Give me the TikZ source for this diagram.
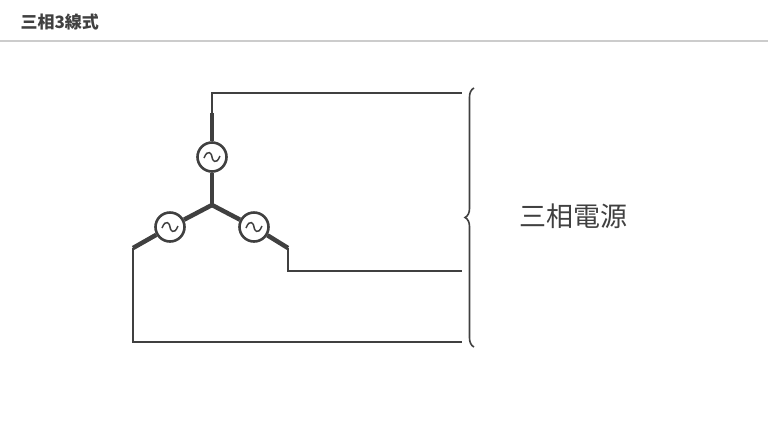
\documentclass[tikz,border=0pt]{standalone}
\usepackage{fontspec}
\newfontfamily\cjk{Noto Sans CJK JP}
\usetikzlibrary{decorations.pathreplacing}
\definecolor{ink}{HTML}{404040}
\begin{document}
\begin{tikzpicture}[
        x=1pt, y=-1pt,
        src/.style={circle, draw=ink, line width=2.6pt, fill=white, minimum size=29pt, inner sep=0pt},
        leg/.style={draw=ink, line width=4.5pt},
        wire/.style={draw=ink, line width=1.4pt},
        wave/.pic={\draw[ink, line width=1.5pt] (-8,1) .. controls (-4,-9) and (0,-3) .. (0,0) .. controls (0,3) and (4,9) .. (8,-1);}
    ]
    \useasboundingbox (0,0) rectangle (768,432);
    % Title bar
    \node[anchor=west, font=\cjk\bfseries\fontsize{17}{20}\selectfont, text=ink] (title) at (17,22) {三相3線式};
    \draw[gray!40, line width=1.5pt] (0,41) -- (768,41);

    % Star point and sources
    \coordinate (star) at (212,205);
    \node[src] (ua) at (212,157) {};
    \node[src] (ub) at (170,227) {};
    \node[src] (uc) at (254,227) {};
    \pic at (ua) {wave};
    \pic at (ub) {wave};
    \pic at (uc) {wave};

    % Corners of the wires
    \coordinate (ta) at (212,113);
    \coordinate (tb) at (133,248);
    \coordinate (tc) at (288,248);
    \coordinate (ka) at (212,93);
    \coordinate (kb) at (133,342);
    \coordinate (kc) at (288,271);
    \coordinate (ea) at (462,93);
    \coordinate (eb) at (462,342);
    \coordinate (ec) at (462,271);

    % Thick legs
    \draw[leg] (star) -- (ua);
    \draw[leg] (star) -- (ub);
    \draw[leg] (star) -- (uc);
    \draw[leg] (ua) -- (ta);
    \draw[leg] (ub) -- (tb);
    \draw[leg] (uc) -- (tc);

    % Lines
    \draw[wire] (ta) -- (ka) -- (ea);
    \draw[wire] (tb) -- (kb) -- (eb);
    \draw[wire] (tc) -- (kc) -- (ec);

    % Brace and label
    \draw[ink, line width=1.6pt, decorate, decoration={brace, amplitude=9pt}] (474,347) -- (474,88);
    \node[anchor=west, font=\cjk\fontsize{27}{32}\selectfont, text=ink] (label) at (516,216) {三相電源};
\end{tikzpicture}
\end{document}
